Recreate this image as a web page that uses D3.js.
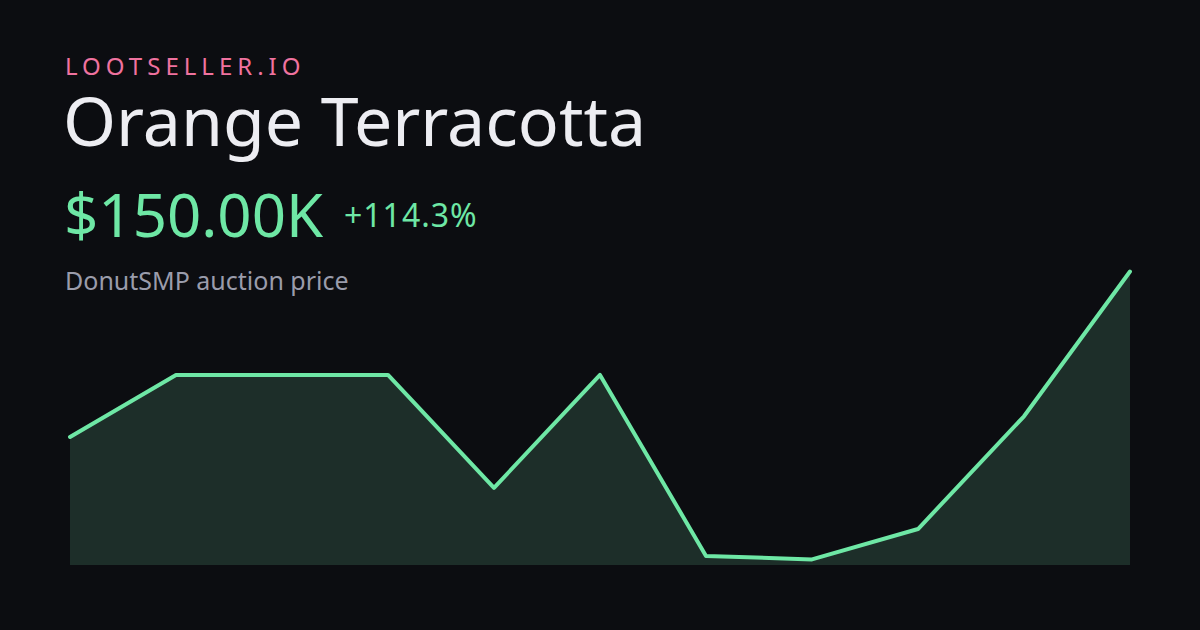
<!DOCTYPE html>
<html><head><meta charset="utf-8">
<script src="https://cdn.jsdelivr.net/npm/d3@7/dist/d3.min.js"></script>
<style>html,body{margin:0;padding:0;background:#0c0d11;}svg{display:block;}</style>
</head><body>
<script>
const brand = "LOOTSELLER.IO";
const title = "Orange Terracotta";
const priceLabel = "$150.00K";
const changeLabel = "+114.3%";
const subtitle = "DonutSMP auction price";
const points = [0,1,2,3,4,5,6,7,8,9,10];
const prices = [70, 100, 100, 100, 45.4, 100, 12.5, 10.8, 25.5, 80, 150];
const yDomain = [8.1, 150];

const W = 1200, H = 630;
const svg = d3.select("body").append("svg").attr("width", W).attr("height", H);
svg.append("rect").attr("width", W).attr("height", H).attr("fill", "#0c0d11");

const x = d3.scaleLinear().domain([0, 10]).range([70, 1130]);
const y = d3.scaleLinear().domain(yDomain).range([565, 271.5]);

const data = points.map((p, i) => ({p, v: prices[i]}));
svg.append("path").datum(data)
  .attr("d", d3.area().x(d => x(d.p)).y0(y(yDomain[0])).y1(d => y(d.v)))
  .attr("fill", "#1d2e29");
svg.append("path").datum(data)
  .attr("d", d3.line().x(d => x(d.p)).y(d => y(d.v)))
  .attr("fill", "none").attr("stroke", "#6ee7a5").attr("stroke-width", 4)
  .attr("stroke-linejoin", "round").attr("stroke-linecap", "round");

const font = "'Noto Sans', sans-serif";
svg.append("text").text(brand).attr("x", 65).attr("y", 75)
  .attr("font-family", font).attr("font-size", 24).attr("letter-spacing", 5)
  .attr("fill", "#f0729f");
svg.append("text").text(title).attr("x", 63).attr("y", 146)
  .attr("font-family", font).attr("font-size", 68).attr("fill", "#ededf2");
svg.append("text").text(priceLabel).attr("x", 64).attr("y", 237)
  .attr("font-family", font).attr("font-size", 60).attr("fill", "#6ee7a5");
svg.append("text").text(changeLabel).attr("x", 344).attr("y", 227)
  .attr("font-family", font).attr("font-size", 32).attr("letter-spacing", 1)
  .attr("fill", "#6ee7a5");
svg.append("text").text(subtitle).attr("x", 65).attr("y", 290)
  .attr("font-family", font).attr("font-size", 25).attr("fill", "#9a9cab");
</script>
</body></html>
